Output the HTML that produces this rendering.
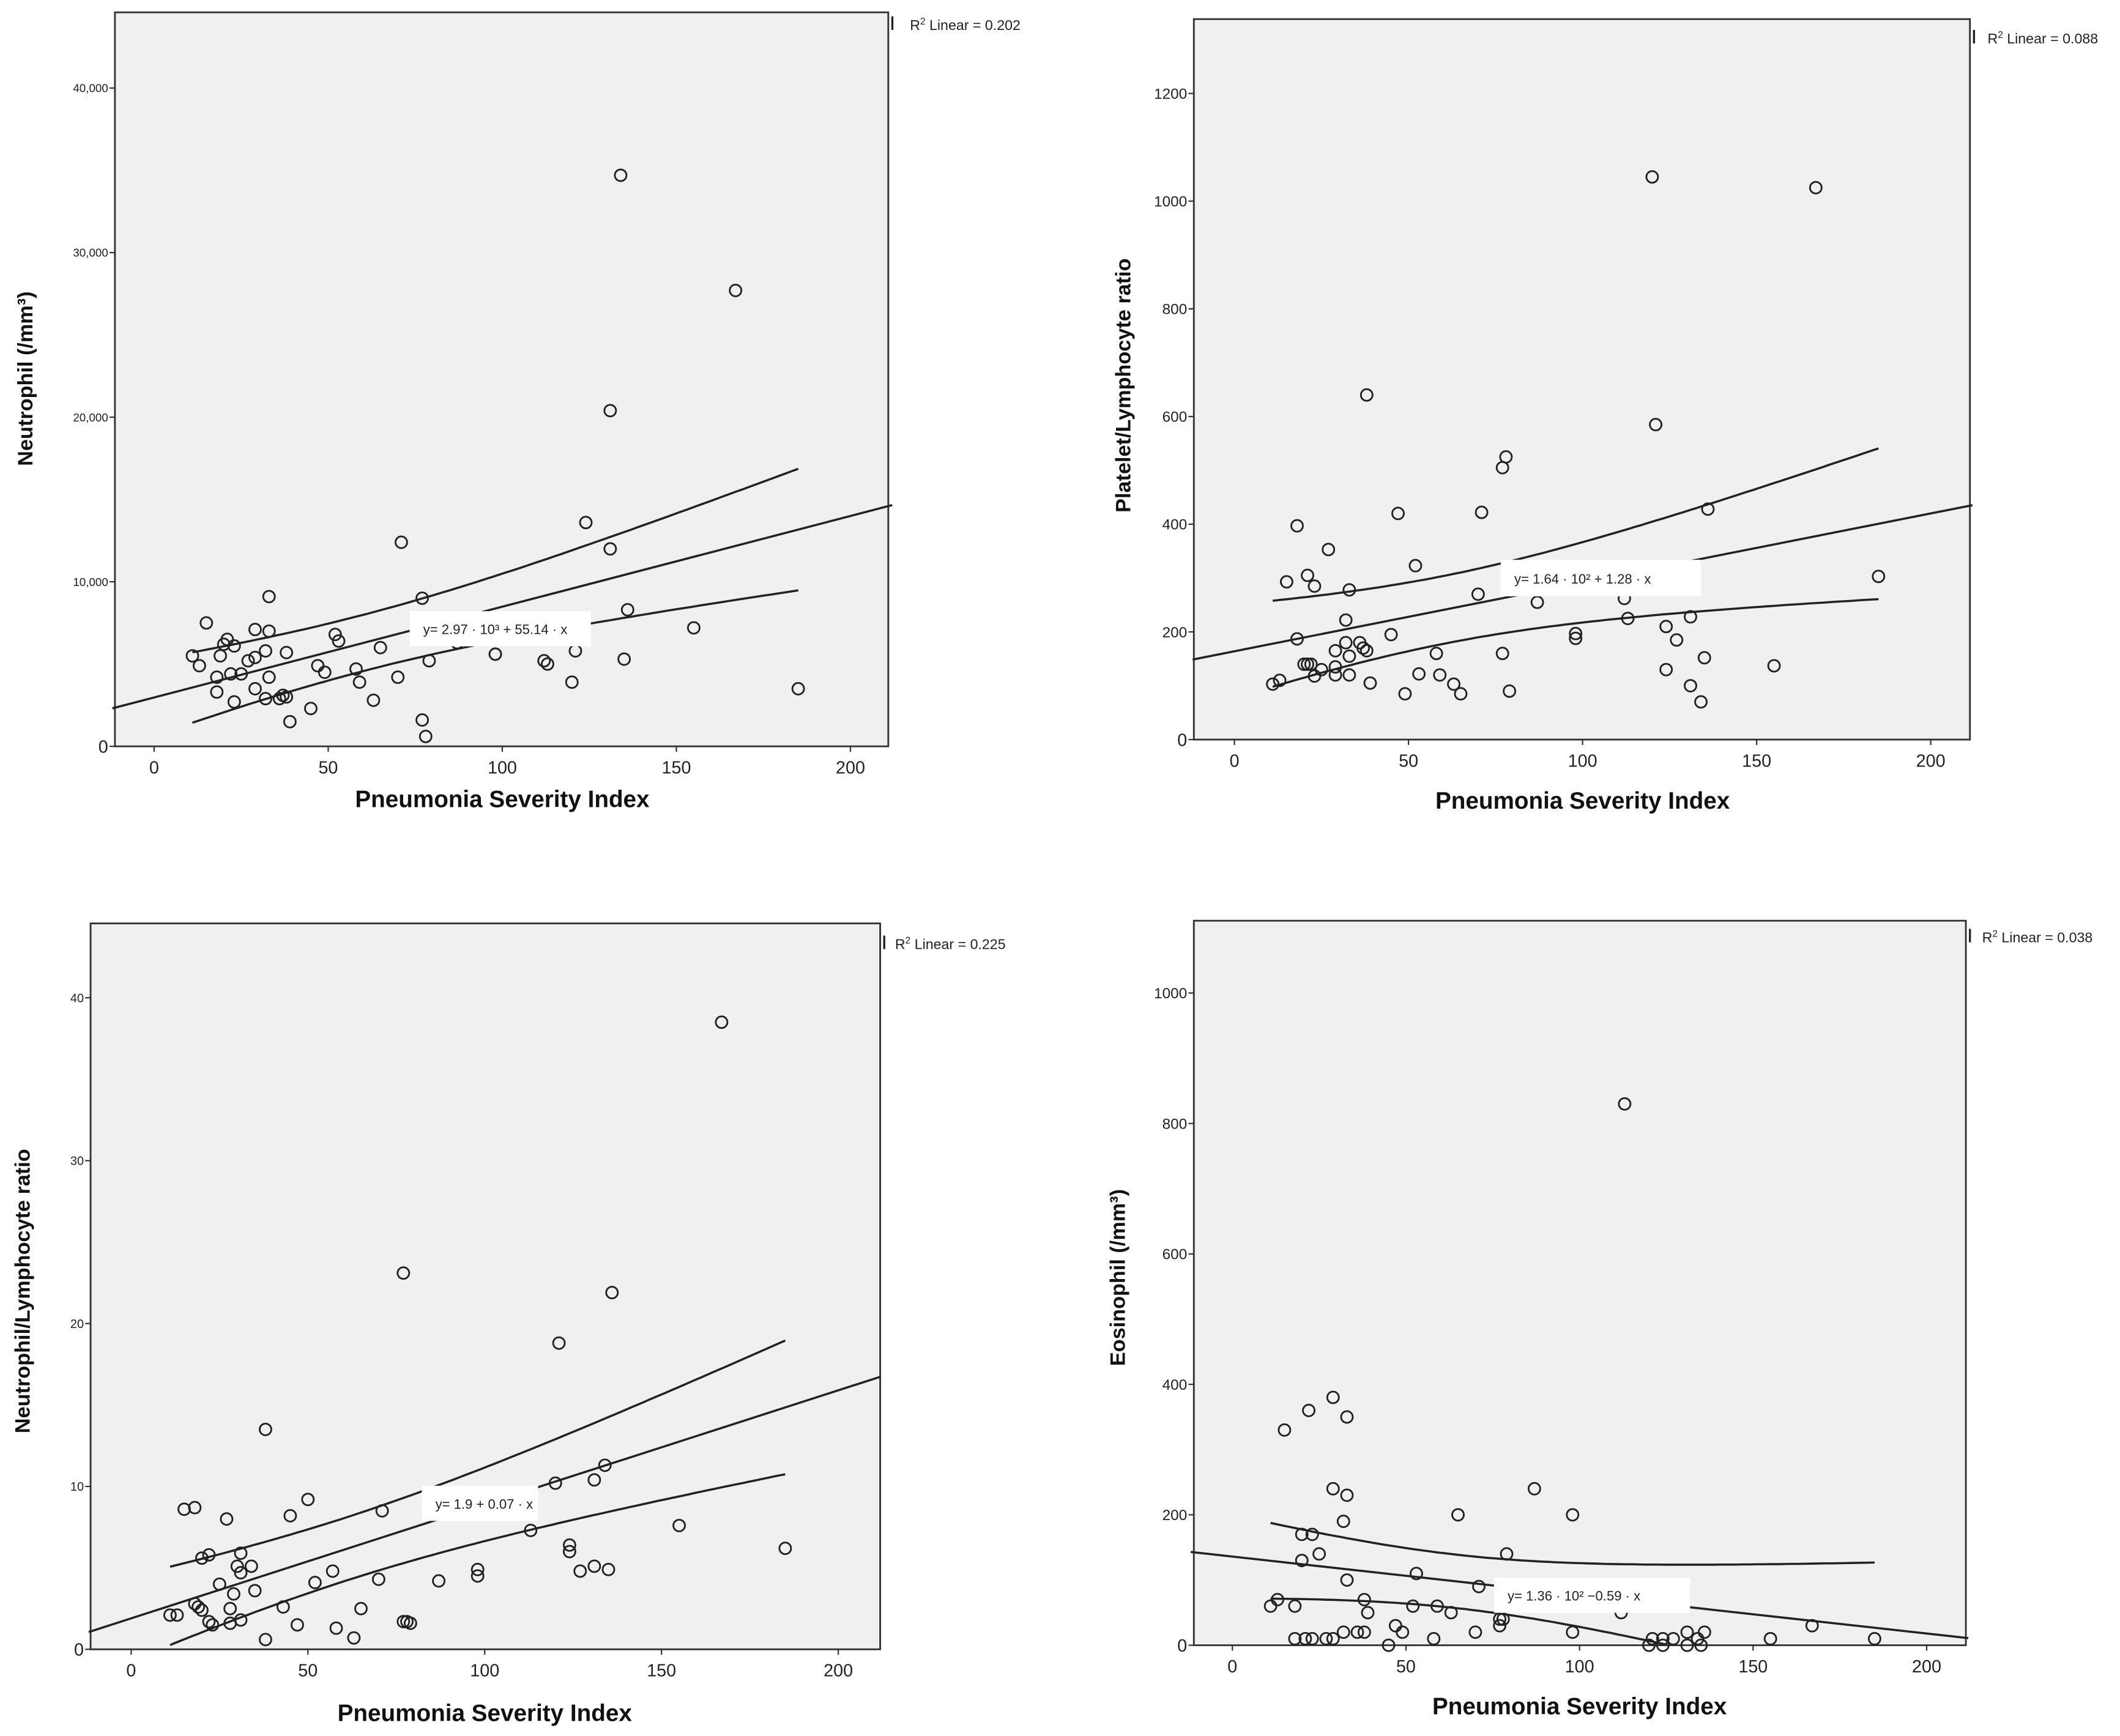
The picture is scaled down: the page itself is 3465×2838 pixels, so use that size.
<!DOCTYPE html>
<html><head><meta charset="utf-8"><style>
html,body{margin:0;padding:0;background:#fff;}
svg{display:block;font-family:"Liberation Sans",Arial,sans-serif;}
</style></head><body>
<svg id="root" width="3465" height="2838" viewBox="0 0 1568 1284" xmlns="http://www.w3.org/2000/svg"></svg>
<script>
// ---- Chart 1: Neutrophil ----
var psi1 = [11,13,15,18,18,19,20,21,22,23,23,25,27,29,29,29,32,32,33,33,33,36,37,38,38,39,45,47,49,52,53,58,59,63,65,70,71,77,77,78,79,87,98,98,112,113,120,121,124,131,131,134,135,136,155,167,185];
var neut = [5.5,4.9,7.5,4.2,3.3,5.5,6.2,6.5,4.4,6.1,2.7,4.4,5.2,7.1,3.5,5.4,5.8,2.9,9.1,7.0,4.2,2.9,3.1,5.7,3.0,1.5,2.3,4.9,4.5,6.8,6.4,4.7,3.9,2.8,6.0,4.2,12.4,9.0,1.6,0.6,5.2,6.3,5.6,5.6,5.2,5.0,3.9,5.8,13.6,12.0,20.4,34.7,5.3,8.3,7.2,27.7,3.5];
var yTicks1 = [0,10,20,30,40];
var yTickLabels1 = ["0","10,000","20,000","30,000","40,000"];
// ---- Chart 2: PLR ----
var psi2 = [11,13,15,18,18,20,21,21,22,23,23,25,27,29,29,29,32,32,33,33,33,36,37,38,38,39,45,47,49,52,53,58,59,63,65,70,71,77,78,77,79,87,98,98,112,113,120,121,124,124,127,131,131,134,135,136,155,167,185];
var plr = [103,110,293,397,187,140,305,140,140,285,118,130,353,120,165,135,222,180,278,155,120,180,170,640,165,105,195,420,85,323,122,160,120,103,85,270,422,505,525,160,90,255,188,197,262,225,1045,585,210,130,185,100,228,70,152,428,137,1025,303];
var yTicks2 = [0,200,400,600,800,1000,1200];
// ---- Chart 3: NLR ----
var psi3 = [11,13,15,18,18,19,20,20,22,22,23,25,27,28,28,29,30,31,31,31,34,35,38,38,43,45,47,50,52,57,58,63,65,70,71,77,77,78,79,87,98,98,113,120,121,124,124,127,131,131,134,135,136,155,167,185];
var nlr = [2.1,2.1,8.6,8.7,2.8,2.6,2.4,5.6,1.7,5.8,1.5,4.0,8.0,1.6,2.5,3.4,5.1,4.7,5.9,1.8,5.1,3.6,13.5,0.6,2.6,8.2,1.5,9.2,4.1,4.8,1.3,0.7,2.5,4.3,8.5,23.1,1.7,1.7,1.6,4.2,4.9,4.5,7.3,10.2,18.8,6.4,6.0,4.8,10.4,5.1,11.3,4.9,21.9,7.6,38.5,6.2];
var yTicks3 = [0,10,20,30,40];
// ---- Chart 4: Eosinophil ----
var psi4 = [11,13,15,18,18,20,20,21,22,23,23,25,27,29,29,29,32,32,33,33,33,36,38,38,39,45,47,49,52,53,58,59,63,65,70,71,77,77,78,79,87,98,98,112,113,120,121,124,124,127,131,131,134,135,136,155,167,185];
var eos = [60,70,330,60,10,170,130,10,360,10,170,140,10,380,240,10,20,190,350,230,100,20,20,70,50,0,30,20,60,110,10,60,50,200,20,90,30,40,40,140,240,200,20,50,830,0,10,10,0,10,20,0,10,0,20,10,30,10];
var yTicks4 = [0,200,400,600,800,1000];
var xTicks = [0,50,100,150,200];
// fit parameters: intercept, slope; CI: xbar, a, b
var fit1 = [2.97,0.05514], ci1 = [60,1.71,0.0262];
var fit2 = [164,1.28], ci2 = [60,63,1.0];
var fit3 = [1.9,0.07], ci3 = [60,1.94,0.0289];
var fit4 = [136,-0.59], ci4 = [65,41,0.76];

var NS="http://www.w3.org/2000/svg";
var root=document.getElementById('root');
function mk(tag,attrs,parent){var e=document.createElementNS(NS,tag);for(var k in attrs)e.setAttribute(k,attrs[k]);(parent||root).appendChild(e);return e;}

var panels=[
 {id:'neutrophil',xs:psi1,ys:neut,yt:yTicks1,ytl:yTickLabels1,fit:fit1,ci:ci1,box:[85,9,657,552],x0:114,x200:629,ymax:40,ytop:65,yfs:8.5,
  ytitle:'Neutrophil (/mm³)',ytx:18,yty:280,xty:597,r2:'0.202',r2x:673,r2y:22,eq:'y= 2.97 · 10³ + 55.14 · x',eqb:[303,452,134,26]},
 {id:'plr',xs:psi2,ys:plr,yt:yTicks2,ytl:null,fit:fit2,ci:ci2,box:[883,14,1457,547],x0:913,x200:1428,ymax:1200,ytop:69,yfs:11,
  ytitle:'Platelet/Lymphocyte ratio',ytx:830,yty:285,xty:598,r2:'0.088',r2x:1470,r2y:32,eq:'y= 1.64 · 10² + 1.28 · x',eqb:[1110,414,148,27]},
 {id:'nlr',xs:psi3,ys:nlr,yt:yTicks3,ytl:null,fit:fit3,ci:ci3,box:[67,683,651,1220],x0:97,x200:620,ymax:40,ytop:738,yfs:9,
  ytitle:'Neutrophil/Lymphocyte ratio',ytx:16,yty:955,xty:1273,r2:'0.225',r2x:662,r2y:702,eq:'y= 1.9 + 0.07 · x',eqb:[312,1099,86,26]},
 {id:'eosinophil',xs:psi4,ys:eos,yt:yTicks4,ytl:null,fit:fit4,ci:ci4,box:[883,681,1454,1217],x0:911.5,x200:1425,ymax:1000,ytop:734.5,yfs:11,
  ytitle:'Eosinophil (/mm³)',ytx:826,yty:945,xty:1268,r2:'0.038',r2x:1466,r2y:697,eq:'y= 1.36 · 10² −0.59 · x',eqb:[1105,1167,145,26]}
];

function drawPanel(p){
 var g=mk('g',{});
 
 
 var L=p.box[0],T=p.box[1],R=p.box[2],B=p.box[3];
 function X(v){return p.x0+(p.x200-p.x0)*v/200;}
 function Y(v){return B+(p.ytop-B)*v/p.ymax;}
 var bg=mk('rect',{x:L,y:T,width:R-L,height:B-T,fill:'#f0f0f0',stroke:'#333','stroke-width':1.3},g);
 
 
 xTicks.forEach(function(t){
  mk('line',{x1:X(t),x2:X(t),y1:B,y2:B+4,stroke:'#333','stroke-width':1},g);
  var tx=mk('text',{x:X(t),y:B+20,'font-size':13,'text-anchor':'middle',fill:'#222'},g);
  tx.textContent=String(t);
  
  
 });
 p.yt.forEach(function(t,i){
  mk('line',{x1:L-4,x2:L,y1:Y(t),y2:Y(t),stroke:'#333','stroke-width':1},g);
  var fs=(t===0?13:p.yfs);
  var tx=mk('text',{x:L-5,y:Y(t)+fs*0.36,'font-size':fs,'text-anchor':'end',fill:'#222'},g);
  tx.textContent=p.ytl?p.ytl[i]:String(t);
  
  
 });
 var a0=p.fit[0],b0=p.fit[1],xb=p.ci[0],ca=p.ci[1],cb=p.ci[2];
 ['upper','lower'].forEach(function(side){
  var d='';
  for(var x=11;x<=185;x+=2){
   var f=a0+b0*x, h=Math.sqrt(ca*ca+cb*cb*(x-xb)*(x-xb));
   var v=side==='upper'?f+h:f-h;
   if(v<0){ if(d) break; else continue; }
   d+=(d?'L':'M')+X(x).toFixed(1)+','+Y(v).toFixed(1);
  }
  if(d){
   var pa=mk('path',{d:d,fill:'none',stroke:'#222','stroke-width':1.6},g);
   
   
  }
 });
 var xs0=-12, xs1=212;
 var ye1=a0+b0*xs1;
 if(ye1<0){ xs1=-a0/b0; ye1=0; }
 var fl=mk('line',{x1:X(xs0),y1:Y(a0+b0*xs0),x2:X(xs1),y2:Y(ye1),stroke:'#222','stroke-width':1.6},g);
 
 
 p.xs.forEach(function(x,i){
  var c=mk('circle',{cx:X(x),cy:Y(p.ys[i]),r:4.3,fill:'none',stroke:'#222','stroke-width':1.3},g);
  
  
 });
 var ex=p.eqb[0],ey=p.eqb[1],ew=p.eqb[2],eh=p.eqb[3];
 var eb=mk('rect',{x:ex,y:ey,width:ew,height:eh,fill:'#fff'},g);
 
 
 var et=mk('text',{x:ex+10,y:ey+eh/2+4,'font-size':10,fill:'#222'},g);
 et.textContent=p.eq;
 
 
 mk('line',{x1:R+3,x2:R+3,y1:p.r2y-10,y2:p.r2y,stroke:'#222','stroke-width':1.5},g);
 var r=mk('text',{x:p.r2x,y:p.r2y,'font-size':10.5,fill:'#222'},g);
 
 
 var s1=mk('tspan',{},r); s1.textContent='R';
 var s2=mk('tspan',{dy:-4,'font-size':7},r); s2.textContent='2';
 var s3=mk('tspan',{dy:4},r); s3.textContent=' Linear = '+p.r2;
 var xt=mk('text',{x:(p.x0+p.x200)/2,y:p.xty,'font-size':17.5,'font-weight':'bold','text-anchor':'middle',fill:'#111'},g);
 xt.textContent='Pneumonia Severity Index';
 
 
 var ytt=mk('text',{x:0,y:0,'font-size':15.5,'font-weight':'bold','text-anchor':'middle',fill:'#111',transform:'translate('+(p.ytx+6)+','+p.yty+') rotate(-90)'},g);
 ytt.textContent=p.ytitle;
 
 
}
panels.forEach(function(p){ try{ drawPanel(p); }catch(e){ console.log(e); } });
</script>
</body></html>
